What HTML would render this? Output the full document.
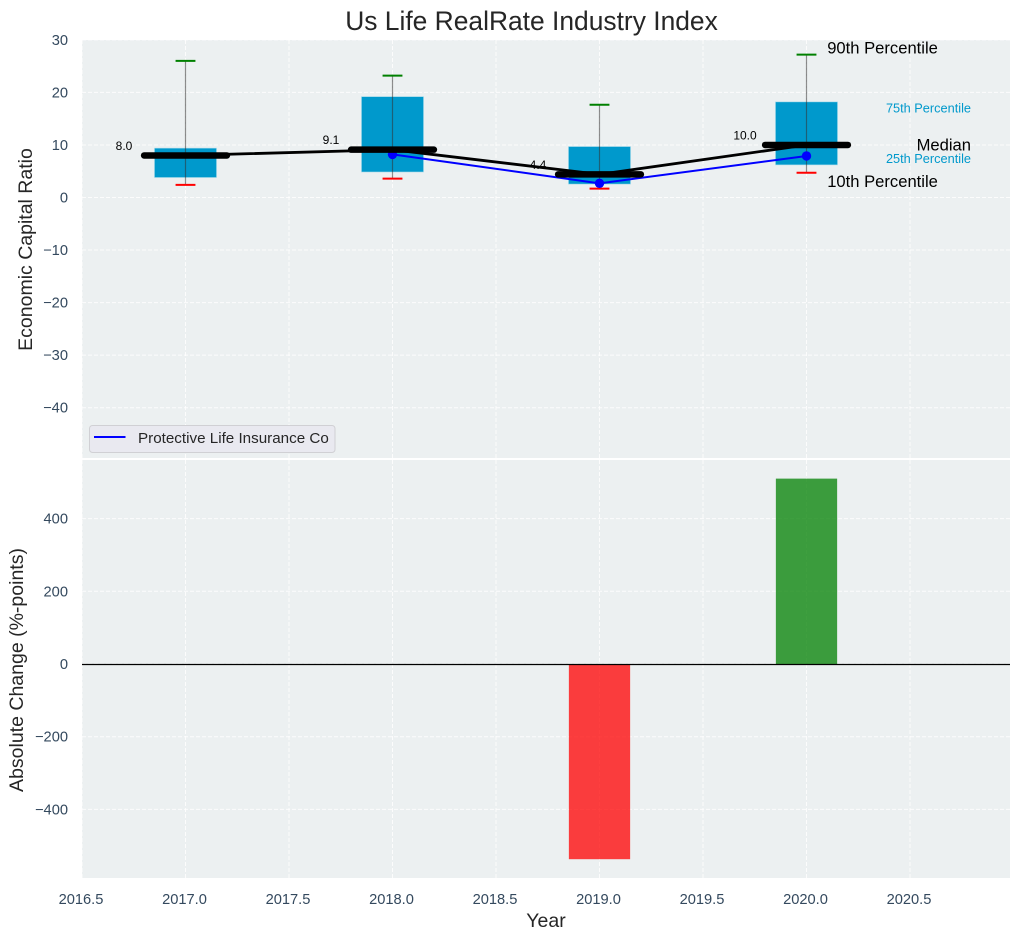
<!DOCTYPE html>
<html lang="en">
<head>
<meta charset="utf-8">
<title>Us Life RealRate Industry Index</title>
<style>
html,body{margin:0;padding:0;background:#fff;width:1021px;height:940px;overflow:hidden}
svg{display:block;font-family:"Liberation Sans",Arial,sans-serif}
</style>
</head>
<body>
<svg id="chart" xmlns="http://www.w3.org/2000/svg" width="1021" height="940" viewBox="0 0 1021 940"></svg>
<script>
const years = [2017, 2018, 2019, 2020];
const p90 = [26.0, 23.2, 17.65, 27.2];
const p75 = [9.4, 19.2, 9.7, 18.2];
const medians = [8.0, 9.1, 4.4, 10.0];
const p25 = [3.8, 4.85, 2.55, 6.2];
const p10 = [2.4, 3.6, 1.7, 4.7];
const companyYears = [2018, 2019, 2020];
const companyValues = [8.2, 2.7, 7.9];
const changeYears = [2019, 2020];
const changeValues = [-537, 510];
const xTicks = [2016.5, 2017.0, 2017.5, 2018.0, 2018.5, 2019.0, 2019.5, 2020.0, 2020.5];
const yTicksTop = [30, 20, 10, 0, -10, -20, -30, -40];
const yTicksBottom = [400, 200, 0, -200, -400];

const NS = 'http://www.w3.org/2000/svg';
const svg = document.getElementById('chart');
const L = 82, R = 1010, T1 = 40, B1 = 458, T2 = 460, B2 = 878;
const X_MIN = 2016.5, X_PER_UNIT = 207;
const x = v => L + (v - X_MIN) * X_PER_UNIT;
const y1 = v => 197.5 - v * 5.255;
const y2 = v => 664 - v * 0.3635;
const BOX = 0.3, MED = 0.4, CAP = 0.048;

function make(tag, attrs, text) {
  const el = document.createElementNS(NS, tag);
  for (const k in attrs) el.setAttribute(k, attrs[k]);
  if (text !== undefined) el.textContent = text;
  svg.appendChild(el);
  return el;
}
function fmt(v) { return String(v).replace('-', '\u2212'); }

let el;
// panels
el = make('rect', {x: L, y: T1, width: R - L, height: B1 - T1, fill: '#ecf0f1'});


el = make('rect', {x: L, y: T2, width: R - L, height: B2 - T2, fill: '#ecf0f1'});



// grid + ticks
xTicks.forEach(t => {
  el = make('line', {x1: x(t), x2: x(t), y1: T1, y2: B1, stroke: '#fff', 'stroke-width': 1, 'stroke-dasharray': '4 2', opacity: .85});
  
  
  el = make('line', {x1: x(t), x2: x(t), y1: T2, y2: B2, stroke: '#fff', 'stroke-width': 1, 'stroke-dasharray': '4 2', opacity: .85});
  
  
  el = make('text', {x: x(t) - 1, y: 904, 'text-anchor': 'middle', 'font-size': 14.67, fill: '#34495e'}, t.toFixed(1));
  
  
});
yTicksTop.forEach(t => {
  el = make('line', {x1: L, x2: R, y1: y1(t), y2: y1(t), stroke: '#fff', 'stroke-width': 1, 'stroke-dasharray': '4 2', opacity: .85});
  
  
  el = make('text', {x: 68, y: y1(t) + 5, 'text-anchor': 'end', 'font-size': 14.67, fill: '#34495e'}, fmt(t));
  
  
});
yTicksBottom.forEach(t => {
  el = make('line', {x1: L, x2: R, y1: y2(t), y2: y2(t), stroke: '#fff', 'stroke-width': 1, 'stroke-dasharray': '4 2', opacity: .85});
  
  
  el = make('text', {x: 68, y: y2(t) + 5, 'text-anchor': 'end', 'font-size': 14.67, fill: '#34495e'}, fmt(t));
  
  
});

// boxes
years.forEach((yr, i) => {
  const cx = x(yr);
  el = make('rect', {x: x(yr - BOX / 2), y: y1(p75[i]), width: x(yr + BOX / 2) - x(yr - BOX / 2), height: y1(p25[i]) - y1(p75[i]), fill: '#0099cc', stroke: '#aeddeb', 'stroke-width': .6});
  
  
  el = make('line', {x1: cx, x2: cx, y1: y1(p90[i]), y2: y1(p10[i]), stroke: '#333', 'stroke-width': 1.2, opacity: .55});
  
  
  el = make('line', {x1: x(yr - CAP), x2: x(yr + CAP), y1: y1(p90[i]), y2: y1(p90[i]), stroke: '#008000', 'stroke-width': 2});
  
  
  el = make('line', {x1: x(yr - CAP), x2: x(yr + CAP), y1: y1(p10[i]), y2: y1(p10[i]), stroke: '#ff0000', 'stroke-width': 2});
  
  
});

// company line
el = make('polyline', {points: companyYears.map((yr, i) => x(yr) + ',' + y1(companyValues[i])).join(' '), fill: 'none', stroke: '#0000ff', 'stroke-width': 2});


companyYears.forEach((yr, i) => {
  el = make('circle', {cx: x(yr), cy: y1(companyValues[i]), r: 4.7, fill: '#0000ff'});
  
  
});

// median line + bars
el = make('polyline', {points: years.map((yr, i) => x(yr) + ',' + y1(medians[i])).join(' '), fill: 'none', stroke: '#000', 'stroke-width': 2.8});


years.forEach((yr, i) => {
  el = make('line', {x1: x(yr - MED / 2), x2: x(yr + MED / 2), y1: y1(medians[i]), y2: y1(medians[i]), stroke: '#000', 'stroke-width': 6.5, 'stroke-linecap': 'round'});
  
  
  el = make('text', {x: x(yr - 0.297), y: y1(medians[i]) - 5.5, 'text-anchor': 'middle', 'font-size': 12, fill: '#000'}, medians[i].toFixed(1));
  
  
});

// percentile annotations, anchored to the last box
const last = years.length - 1;
el = make('text', {x: x(years[last] + 0.1), y: y1(p90[last]) - 1, 'font-size': 16.6, fill: '#000'}, '90th Percentile');


el = make('text', {x: 971, y: y1(p75[last]) + 10.5, 'text-anchor': 'end', 'font-size': 12.75, fill: '#0099cc'}, '75th Percentile');


el = make('text', {x: 971, y: y1(medians[last]) + 5.5, 'text-anchor': 'end', 'font-size': 16.6, fill: '#000'}, 'Median');


el = make('text', {x: 971, y: y1(p25[last]) - 2, 'text-anchor': 'end', 'font-size': 12.75, fill: '#0099cc'}, '25th Percentile');


el = make('text', {x: x(years[last] + 0.1), y: y1(p10[last]) + 14, 'font-size': 16.6, fill: '#000'}, '10th Percentile');



// change bars
changeYears.forEach((yr, i) => {
  const v = changeValues[i];
  el = make('rect', {x: x(yr - 0.148), y: Math.min(y2(0), y2(v)), width: x(yr + 0.148) - x(yr - 0.148), height: Math.abs(y2(v) - y2(0)), fill: v < 0 ? '#ff0000' : '#008000', 'fill-opacity': .75});
  
  
});
el = make('line', {x1: L, x2: R, y1: y2(0) + 0.5, y2: y2(0) + 0.5, stroke: '#000', 'stroke-width': 1.2});



// legend
el = make('rect', {x: 89.5, y: 425.5, width: 245.5, height: 27, rx: 3, fill: '#e9e9f0', stroke: '#d0d0d4', 'stroke-width': 1});


el = make('line', {x1: 94, x2: 125.5, y1: 437, y2: 437, stroke: '#0000ff', 'stroke-width': 2});


el = make('text', {x: 138, y: 443, 'font-size': 15.2, fill: '#262626'}, 'Protective Life Insurance Co');



// titles
el = make('text', {x: 531.5, y: 30, 'text-anchor': 'middle', 'font-size': 26.4, fill: '#262626'}, 'Us Life RealRate Industry Index');


el = make('text', {x: 546, y: 927, 'text-anchor': 'middle', 'font-size': 19.5, fill: '#262626'}, 'Year');


el = make('text', {x: 0, y: 0, transform: 'translate(32,249.5) rotate(-90)', 'text-anchor': 'middle', 'font-size': 19.5, fill: '#262626'}, 'Economic Capital Ratio');


el = make('text', {x: 0, y: 0, transform: 'translate(23,670) rotate(-90)', 'text-anchor': 'middle', 'font-size': 19.5, fill: '#262626'}, 'Absolute Change (%-points)');


</script>
</body>
</html>
